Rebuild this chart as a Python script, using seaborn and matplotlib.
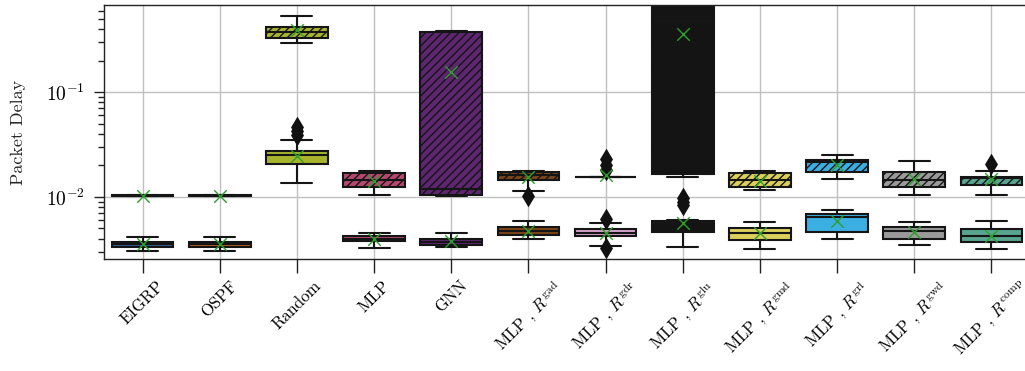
import numpy as np
import pandas as pd
import matplotlib
matplotlib.use("Agg")
import matplotlib.pyplot as plt
import seaborn as sns

methods = ["EIGRP", "OSPF", "Random", "MLP", "GNN",
           r"MLP , $R^{\mathrm{gad}}$", r"MLP , $R^{\mathrm{gdr}}$",
           r"MLP , $R^{\mathrm{glu}}$", r"MLP , $R^{\mathrm{gmd}}$",
           r"MLP , $R^{\mathrm{grl}}$", r"MLP , $R^{\mathrm{gwd}}$",
           r"MLP , $R^{\mathrm{comp}}$"]
colors = ["#2f5e9a", "#b3601f", "#a8b52c", "#b4486f", "#5e2570", "#7b4519",
          "#d6a2cc", "#141414", "#dccf5c", "#3bafe1", "#9a9a9a", "#58a48f"]

# hatched (upper) box statistics
up_lo   = [0.01025, 0.01025, 0.293, 0.01038, 0.0103, 0.01133, 0.0155, 0.01542, 0.01158, 0.01474, 0.01038, 0.01038]
up_q1   = [0.01028, 0.01028, 0.332, 0.0123, 0.01031, 0.01442, 0.0155, 0.01656, 0.01229, 0.01729, 0.01229, 0.01284]
up_med  = [0.0103, 0.0103, 0.375, 0.01442, 0.01183, 0.0160, 0.0155, 0.482, 0.01442, 0.02154, 0.01442, 0.0150]
up_q3   = [0.01035, 0.01035, 0.416, 0.0169, 0.373, 0.01729, 0.0155, 0.655, 0.01707, 0.02271, 0.01729, 0.01551]
up_hi   = [0.01038, 0.01038, 0.530, 0.0175, 0.385, 0.0176, 0.0155, 0.655, 0.01769, 0.02494, 0.02188, 0.01769]
up_mean = [0.0103, 0.0103, 0.393, 0.0141, 0.157, 0.0155, 0.0161, 0.360, 0.0142, 0.02035, 0.01497, 0.01497]
up_out_method = [methods[5], methods[6], methods[6], methods[6], methods[11]]
up_out_value  = [0.01022, 0.0232, 0.0200, 0.0179, 0.02048]

# plain (lower) box statistics
lo_lo   = [0.00304, 0.00304, 0.0137, 0.00327, 0.0033, 0.00393, 0.00339, 0.00334, 0.00318, 0.00398, 0.00344, 0.0032]
lo_q1   = [0.00334, 0.00334, 0.0204, 0.00376, 0.00349, 0.00429, 0.00423, 0.00458, 0.00387, 0.00461, 0.00393, 0.00368]
lo_med  = [0.00352, 0.00352, 0.0249, 0.00398, 0.00368, 0.00472, 0.00456, 0.00565, 0.00448, 0.00636, 0.00475, 0.0042]
lo_q3   = [0.00373, 0.00373, 0.0272, 0.0042, 0.00395, 0.00512, 0.00489, 0.0059, 0.00507, 0.00684, 0.00511, 0.00493]
lo_hi   = [0.00416, 0.00416, 0.0352, 0.00454, 0.00451, 0.00587, 0.00565, 0.00595, 0.00578, 0.00747, 0.00571, 0.00591]
lo_mean = [0.00357, 0.00357, 0.0246, 0.00398, 0.00381, 0.00475, 0.0045, 0.00565, 0.00448, 0.0059, 0.00458, 0.00422]
lo_out_method = ["Random", "Random", "Random", methods[6], methods[6],
                 methods[7], methods[7], methods[7]]
lo_out_value  = [0.0461, 0.0422, 0.0387, 0.00614, 0.00324, 0.0097, 0.0089, 0.0083]


def box_table(lo, q1, med, q3, hi):
    rows = []
    for m, a, b, c, d, e in zip(methods, lo, q1, med, q3, hi):
        vals = [a] + [b] * 5 + [c] * 5 + [d] * 5 + [e]
        rows += [(m, v) for v in vals]
    return pd.DataFrame(rows, columns=["method", "value"])


sns.set_theme(style="ticks")
plt.rcParams["font.family"] = ["cmr10", "DejaVu Serif"]
plt.rcParams["mathtext.fontset"] = "cm"
plt.rcParams["axes.formatter.use_mathtext"] = True
plt.rcParams["hatch.color"] = "#111111"
plt.rcParams["hatch.linewidth"] = 1.0

fig = plt.figure(figsize=(10.25, 3.71), dpi=100)
ax = fig.add_axes([104 / 1025, 1 - 259 / 371, 926 / 1025, 254 / 371])
ax.set_yscale("log")

pal = dict(zip(methods, colors))
box_kw = dict(x="method", y="value", hue="method", palette=pal, order=methods,
              hue_order=methods, legend=False, whis=(0, 100), showfliers=False,
              width=0.8, linewidth=1.5, linecolor="#151515", saturation=1, ax=ax)

n0 = len(ax.patches)
sns.boxplot(data=box_table(up_lo, up_q1, up_med, up_q3, up_hi), **box_kw)
for p in ax.patches[n0:]:
    p.set_hatch("////")
sns.boxplot(data=box_table(lo_lo, lo_q1, lo_med, lo_q3, lo_hi), **box_kw)

sns.stripplot(x=up_out_method + lo_out_method, y=up_out_value + lo_out_value,
              order=methods, jitter=False, marker="d", color="#111111", size=11,
              linewidth=0, ax=ax, zorder=5)
sns.stripplot(x=methods + methods, y=up_mean + lo_mean, order=methods,
              jitter=False, marker="x", color="#2ca02c", size=9, linewidth=1.0,
              ax=ax, zorder=6)

ax.set_xlim(-0.5, 11.5)
ax.set_ylim(0.00255, 0.68)
ax.grid(True, color="#c0c0c0", linewidth=1.0)
ax.set_axisbelow(True)
for s in ax.spines.values():
    s.set_color("#222222")
    s.set_linewidth(1.0)
ax.tick_params(axis="both", which="major", length=7, width=1, colors="#222222",
               labelcolor="black", labelsize=12)
ax.tick_params(axis="y", which="major", labelsize=14, pad=7)
ax.tick_params(axis="y", which="minor", length=4, width=1, colors="#222222")
ax.tick_params(axis="x", length=10)
plt.setp(ax.get_xticklabels(), rotation=45, ha="center")
ax.set_xlabel("")
ax.set_ylabel("Packet Delay", fontsize=13, labelpad=14)

fig.savefig("out.png", dpi=100)
